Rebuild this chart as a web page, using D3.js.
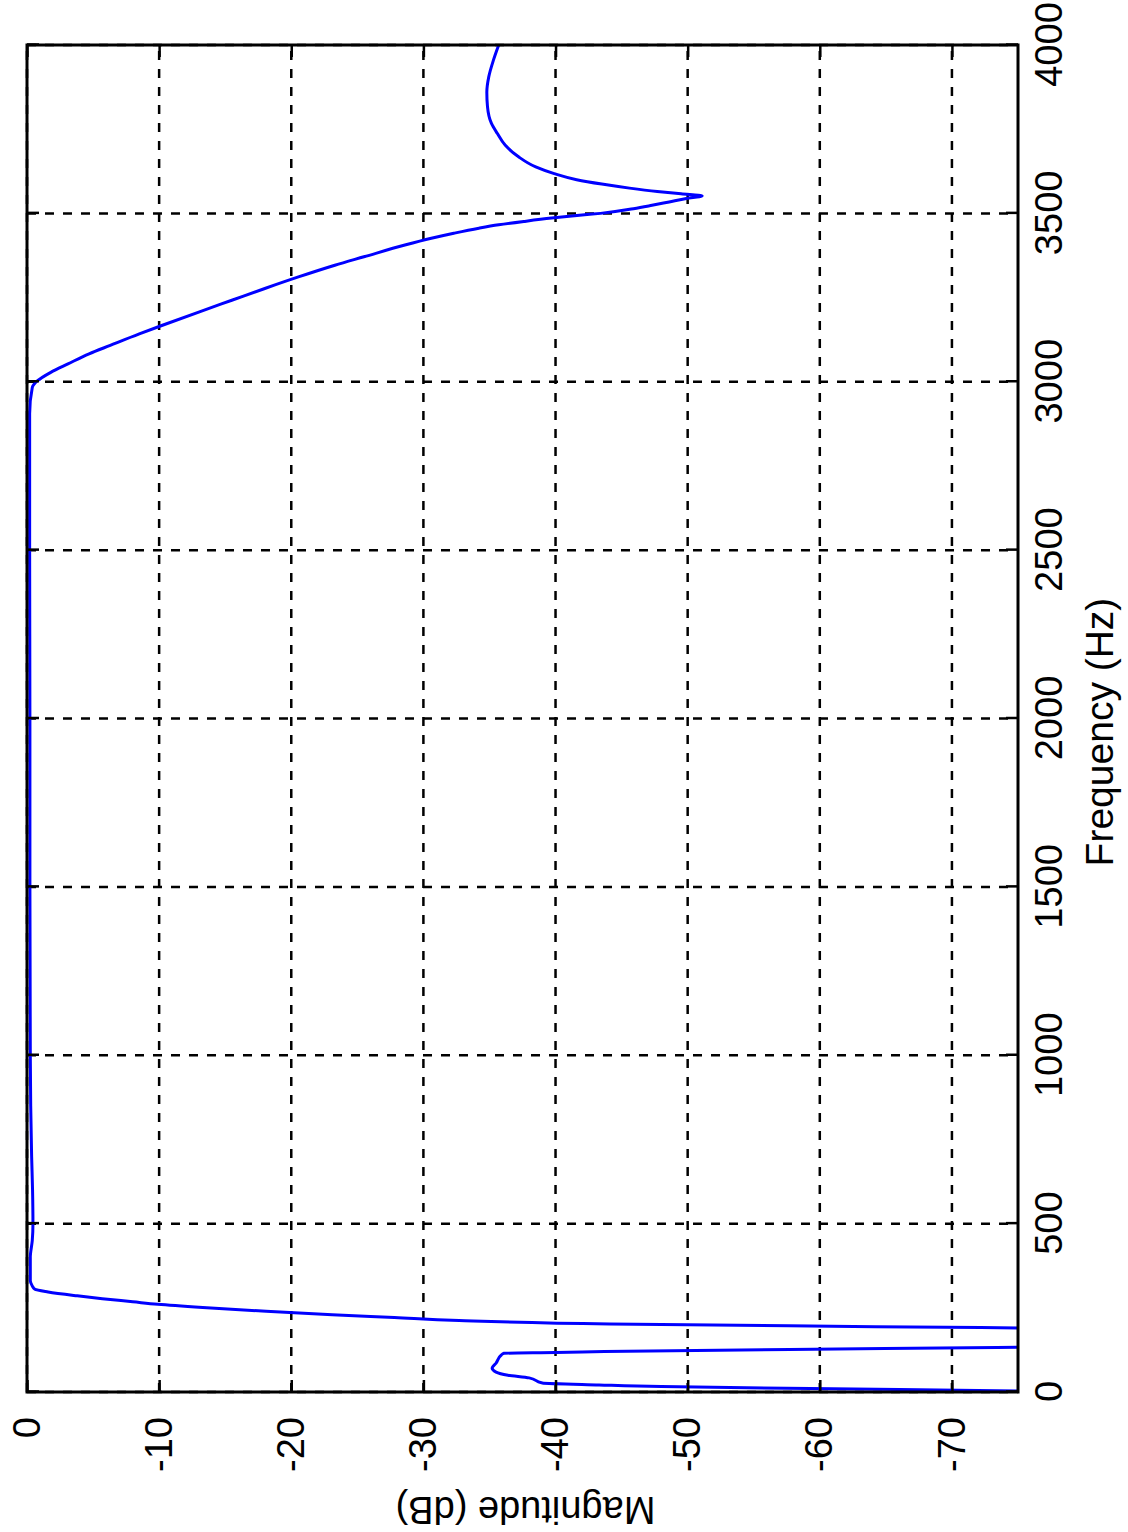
<!DOCTYPE html>
<html>
<head>
<meta charset="utf-8">
<script src="https://cdn.jsdelivr.net/npm/d3@7"></script>
<style>
  body { margin: 0; background: #fff; }
  svg { display: block; }
</style>
</head>
<body>
<script>
// Band-pass filter magnitude response (frequency in Hz, magnitude in dB).
// Values below -75 dB fall outside the axes and are clipped.
const freqHz = [
  0, 7.4, 16, 21, 27, 42, 50, 59, 71, 86, 110, 115, 117, 120, 129, 138, 160, 186,
  194, 202, 212.3, 221.2, 229.6, 239.6, 250.9, 260.4, 268, 277, 285.6, 297, 305, 315, 330,
  400, 450, 500, 600, 700, 850, 1000, 1500, 2000, 2500, 2800, 2905,
  2983, 3003, 3028, 3053, 3083, 3108, 3142, 3167, 3207, 3242, 3277, 3312, 3346, 3371,
  3406, 3426, 3441, 3456, 3466, 3476, 3486, 3495, 3500, 3514, 3524, 3534, 3544, 3552,
  3558, 3565, 3575, 3587, 3600, 3618, 3638, 3668, 3702, 3737, 3767, 3817, 3860, 3906, 3955, 4000
];
const magDb = [
  -81, -66, -48, -43.3, -39.0, -38.0, -36.4, -35.5, -35.2, -35.5, -35.9, -36.1, -40, -43.7, -64.9, -87, -100, -85,
  -64.2, -44.1, -32.7, -27.8, -23.1, -18.1, -13.3, -9.9, -8.0, -5.7, -3.8, -1.6, -0.6, -0.4, -0.25,
  -0.25, -0.4, -0.45, -0.42, -0.35, -0.28, -0.25, -0.22, -0.22, -0.2, -0.2, -0.2,
  -0.4, -0.8, -1.8, -3.1, -4.7, -6.3, -8.5, -10.2, -13.0, -15.5, -18.0, -20.6, -23.3, -25.5,
  -28.6, -30.6, -32.3, -34.2, -35.7, -37.6, -39.7, -42.0, -43.4, -45.9, -47.3, -48.6, -49.9, -51.1,
  -49.5, -47.7, -45.6, -43.5, -41.6, -39.9, -38.5, -37.2, -36.2, -35.6, -35.15, -34.85, -34.8, -34.95, -35.3, -35.7
];

const freqTicks = [0, 500, 1000, 1500, 2000, 2500, 3000, 3500, 4000];
const magTicks = [0, -10, -20, -30, -40, -50, -60, -70];

const xLabel = "Frequency (Hz)";
const yLabel = "Magnitude (dB)";

// The figure is laid out landscape (1532 x 1128) and turned a quarter-turn
// counter-clockwise onto the 1128 x 1532 page.
const FIG_W = 1532, FIG_H = 1128;
const plot = { left: 140, right: 1487, top: 27, bottom: 1018 };
const FONT = "'Liberation Sans', Arial, Helvetica, sans-serif";
const FONT_SIZE = 38;
const TITLE_SIZE = 39;

const svg = d3.select("body").append("svg")
  .attr("width", FIG_H)
  .attr("height", FIG_W);

svg.append("rect").attr("width", FIG_H).attr("height", FIG_W).attr("fill", "#fff");

const fig = svg.append("g")
  .attr("transform", `translate(0,${FIG_W}) rotate(-90)`);

const x = d3.scaleLinear().domain([0, 4000]).range([plot.left, plot.right]);
const y = d3.scaleLinear().domain([-75, 0]).range([plot.bottom, plot.top]);

// Dashed grid
const grid = fig.append("g")
  .attr("stroke", "#000")
  .attr("stroke-width", 2.5)
  .attr("stroke-dasharray", "9,9");

grid.selectAll("line.gx").data(freqTicks).join("line")
  .attr("class", "gx")
  .attr("x1", d => x(d)).attr("x2", d => x(d))
  .attr("y1", plot.top).attr("y2", plot.bottom);

grid.selectAll("line.gy").data(magTicks).join("line")
  .attr("class", "gy")
  .attr("x1", plot.left).attr("x2", plot.right)
  .attr("y1", d => y(d)).attr("y2", d => y(d));

// Response curve, clipped to the axes box
fig.append("clipPath").attr("id", "plot-clip")
  .append("rect")
  .attr("x", plot.left).attr("y", plot.top)
  .attr("width", plot.right - plot.left)
  .attr("height", plot.bottom - plot.top);

const points = freqHz.map((f, i) => [f, magDb[i]]);
const line = d3.line()
  .x(d => x(d[0]))
  .y(d => y(d[1]))
  .curve(d3.curveMonotoneX);

fig.append("path")
  .datum(points)
  .attr("clip-path", "url(#plot-clip)")
  .attr("fill", "none")
  .attr("stroke", "#0000ff")
  .attr("stroke-width", 3)
  .attr("stroke-linejoin", "round")
  .attr("d", line);

// Axes: inward ticks on all four sides, labels on bottom and left
const fmt = d => String(d);
const TICK = 12;

function styleAxis(g) {
  g.select(".domain").remove();
  g.selectAll(".tick line").attr("stroke", "#000").attr("stroke-width", 2.5);
  g.selectAll("text")
    .attr("fill", "#000")
    .style("font-family", FONT)
    .style("font-size", FONT_SIZE + "px");
}

fig.append("g")
  .attr("transform", `translate(0,${plot.bottom})`)
  .call(d3.axisBottom(x).tickValues(freqTicks).tickFormat(fmt).tickSize(-TICK).tickPadding(17))
  .call(styleAxis);

fig.append("g")
  .attr("transform", `translate(0,${plot.top})`)
  .call(d3.axisTop(x).tickValues(freqTicks).tickFormat("").tickSize(-TICK))
  .call(styleAxis);

fig.append("g")
  .attr("transform", `translate(${plot.left},0)`)
  .call(d3.axisLeft(y).tickValues(magTicks).tickFormat(fmt).tickSize(-TICK).tickPadding(25))
  .call(styleAxis);

fig.append("g")
  .attr("transform", `translate(${plot.right},0)`)
  .call(d3.axisRight(y).tickValues(magTicks).tickFormat("").tickSize(-TICK))
  .call(styleAxis);

// Axes box
fig.append("rect")
  .attr("x", plot.left).attr("y", plot.top)
  .attr("width", plot.right - plot.left)
  .attr("height", plot.bottom - plot.top)
  .attr("fill", "none")
  .attr("stroke", "#000")
  .attr("stroke-width", 3);

// Axis titles
fig.append("text")
  .attr("x", 800)
  .attr("y", 1113)
  .attr("text-anchor", "middle")
  .style("font-family", FONT)
  .style("font-size", TITLE_SIZE + "px")
  .text(xLabel);

fig.append("text")
  .attr("transform", `translate(35,${(plot.top + plot.bottom) / 2 + 3}) rotate(-90)`)
  .attr("text-anchor", "middle")
  .style("font-family", FONT)
  .style("font-size", FONT_SIZE + "px")
  .text(yLabel);
</script>
</body>
</html>
